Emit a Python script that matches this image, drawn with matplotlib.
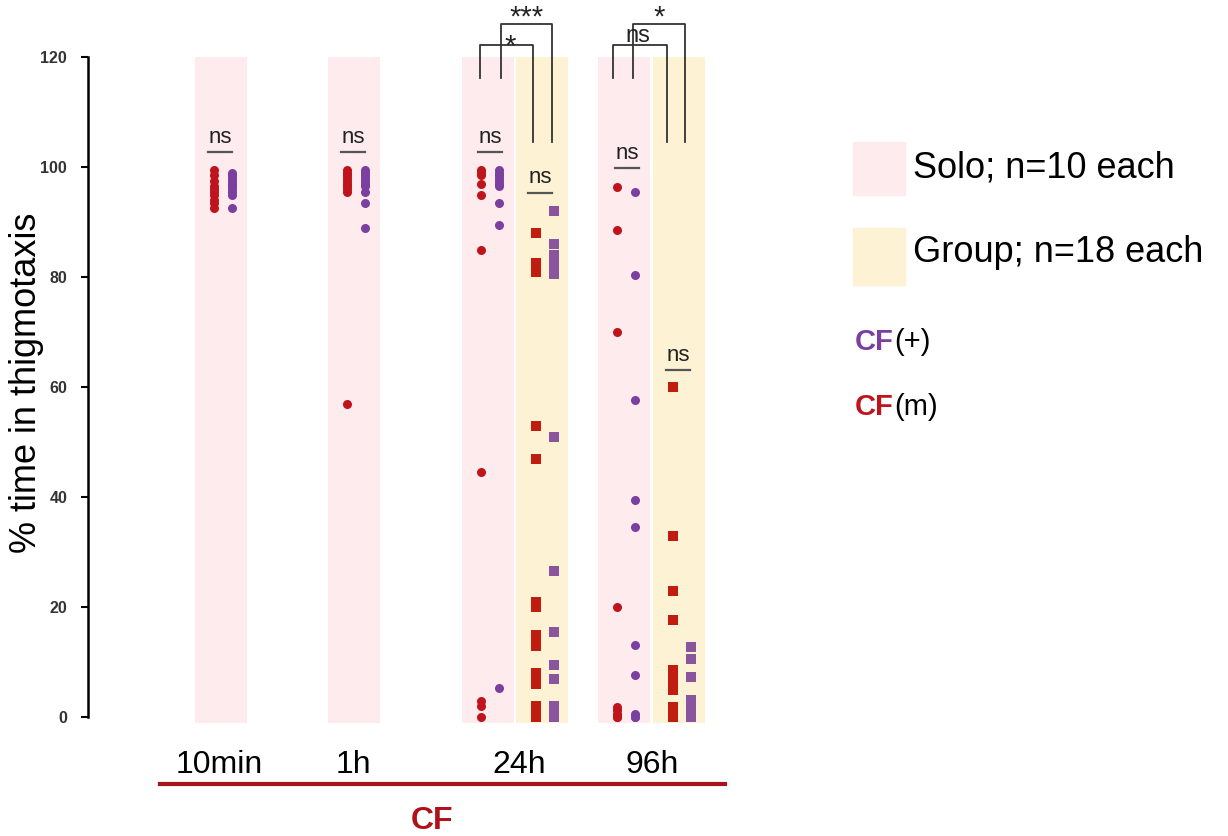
import matplotlib.pyplot as plt
from matplotlib.patches import Rectangle

plt.rcParams['font.family'] = ['Liberation Sans', 'DejaVu Sans']

# timepoints on the x axis
timepoints = ['10min', '1h', '24h', '96h']

# Solo fish (n=10 each): CF(m) red dots, CF(+) purple dots
solo_m_10min = [99.5, 98.5, 97.5, 96.5, 96, 95.5, 95, 94, 93.5, 92.5]
solo_p_10min = [99, 98.5, 98, 97.5, 97, 96.5, 96, 95.5, 95, 92.5]
solo_m_1h = [99.5, 99, 98.5, 98, 97.5, 97, 96.5, 96, 95.5, 56.9]
solo_p_1h = [99.5, 99, 98.5, 98, 97.5, 97, 96.5, 95.5, 93.5, 89]
solo_m_24h = [99.5, 99, 98.5, 97, 95, 85, 44.5, 3, 2, 0]
solo_p_24h = [99.5, 99, 98.5, 98, 97.5, 97, 96.5, 93.5, 89.5, 5.3]
solo_m_96h = [96.4, 88.5, 70, 20, 1.8, 1.2, 0.6, 0.3, 0, 0]
solo_p_96h = [95.5, 80.4, 57.6, 39.5, 34.6, 13.1, 7.6, 0.5, 0, 0]

# Group fish (n=18 each): CF(m) red squares, CF(+) purple squares
group_m_24h = [88, 82.5, 81.5, 81, 53, 47, 21, 20, 15, 14, 13, 8, 7, 6, 2, 1, 0.5, 0]
group_p_24h = [92, 86, 84, 83, 82, 80.5, 51, 26.5, 15.5, 9.5, 7, 2, 1.5, 1, 0.5, 0, 0, 0]
group_m_96h = [60, 33, 23, 17.6, 8.5, 7.5, 6.5, 5.5, 5, 1.8, 1.2, 0.8, 0.5, 0.3, 0, 0, 0, 0]
group_p_96h = [12.7, 10.5, 7.3, 3.1, 1.3, 0.8, 0.4, 0, 0, 0, 0, 0, 0, 0, 0, 0, 0, 0]

# colours
pink = '#fdebed'
cream = '#fdf2d3'
red = '#c0141c'
purple = '#7b3fa0'
red_sq = '#c01d10'
purple_sq = '#8a559c'

W, H = 1228, 836
fig = plt.figure(figsize=(W / 100, H / 100), dpi=100)
# axes frame in pixels: x 88..760, y 57..717 (0..120)
ax = fig.add_axes([88 / W, (H - 717) / H, 672 / W, 660 / H])
ax.set_xlim(88, 760)
ax.set_ylim(0, 120)

# column layout (x in pixel units)
solo_x = {'10min': 223, '1h': 356, '24h': 490, '96h': 626}
group_x = {'24h': 545, '96h': 682}
band_w = 52
dx = 9  # offset of red / purple columns from band centre

solo_m = {'10min': solo_m_10min, '1h': solo_m_1h, '24h': solo_m_24h, '96h': solo_m_96h}
solo_p = {'10min': solo_p_10min, '1h': solo_p_1h, '24h': solo_p_24h, '96h': solo_p_96h}
group_m = {'24h': group_m_24h, '96h': group_m_96h}
group_p = {'24h': group_p_24h, '96h': group_p_96h}

for t in timepoints:
    x = solo_x[t]
    ax.bar(x - 2, 121, bottom=-1, width=band_w, color=pink, zorder=0, clip_on=False)
    ax.plot([x - dx] * len(solo_m[t]), solo_m[t], 'o', color=red, ms=6.5, mew=0,
            clip_on=False, zorder=3)
    ax.plot([x + dx] * len(solo_p[t]), solo_p[t], 'o', color=purple, ms=6.5, mew=0,
            clip_on=False, zorder=3)
    if t in group_x:
        gx = group_x[t]
        ax.bar(gx - 3, 121, bottom=-1, width=band_w, color=cream, zorder=0, clip_on=False)
        ax.plot([gx - dx] * len(group_m[t]), group_m[t], 's', color=red_sq, ms=6.5,
                mew=0, clip_on=False, zorder=3)
        ax.plot([gx + dx] * len(group_p[t]), group_p[t], 's', color=purple_sq, ms=6.5,
                mew=0, clip_on=False, zorder=3)

# "ns" labels with underline
ns_marks = [(220, 102.7), (353, 102.7), (490, 102.7), (540, 95.3), (627, 99.8), (678, 63.1)]
for x, y in ns_marks:
    ax.plot([x - 12, x + 12], [y, y], color='#555555', lw=1.6, clip_on=False)
    ax.text(x, y + 0.8, 'ns', ha='center', va='bottom', fontsize=16, color='#222222')

# significance brackets: (x left, x right, top, left bottom, right bottom, label, label x)
brackets = [
    (480, 533, 122.2, 116.2, 104.5, '*', 510),
    (501, 552, 126.0, 116.2, 104.5, '***', 527),
    (613, 667, 122.2, 116.2, 104.5, 'ns', 638),
    (633, 685, 126.0, 116.2, 104.5, '*', 659),
]
for xl, xr, top, yl, yr, lab, lx in brackets:
    ax.plot([xl, xl, xr, xr], [yl, top, top, yr], color='#333333', lw=1.3,
            clip_on=False, zorder=4)
    if lab == 'ns':
        ax.text(lx, top - 0.3, lab, ha='center', va='bottom', fontsize=17,
                color='#222222', zorder=5)
    elif top > 124:
        ax.text(lx, top - 0.2, lab, ha='center', va='baseline', fontsize=21,
                color='#222222', zorder=5)
    else:
        ax.text(lx, top - 1.8, lab, ha='center', va='baseline', fontsize=21,
                color='#222222', zorder=5)

# axes styling
for s in ['top', 'right', 'bottom']:
    ax.spines[s].set_visible(False)
ax.spines['left'].set_linewidth(1.8)
ax.set_yticks([0, 20, 40, 60, 80, 100, 120])
ax.tick_params(axis='y', direction='out', length=5, width=1.5, labelsize=11.5,
               labelcolor='#333333', pad=10)
for lb in ax.get_yticklabels():
    lb.set_fontweight('bold')
ax.set_ylabel('% time in thigmotaxis', fontsize=26)
ax.yaxis.set_label_coords(-0.066, 0.506)

ax.set_xticks([219, 353, 519, 652])
ax.set_xticklabels(timepoints, fontsize=23)
ax.tick_params(axis='x', length=0, pad=24)

# red CF line below the x labels
ax.plot([160, 725], [-12.2, -12.2], color='#a8141a', lw=3, clip_on=False)
ax.text(432, -18.9, 'CF', ha='center', va='center', fontsize=23,
        fontweight='bold', color='#b01018')

# legend
fig.patches.append(Rectangle((853 / W, (H - 195) / H), 52 / W, 53 / H,
                             transform=fig.transFigure, color=pink))
fig.patches.append(Rectangle((853 / W, (H - 285) / H), 52 / W, 57 / H,
                             transform=fig.transFigure, color=cream))
fig.text(913 / W, (H - 168) / H, 'Solo; n=10 each', fontsize=26, va='center')
fig.text(913 / W, (H - 252) / H, 'Group; n=18 each', fontsize=26, va='center')

t1 = fig.text(855 / W, (H - 342) / H, 'CF', fontsize=21, fontweight='bold',
              color=purple, va='center')
t2 = fig.text(855 / W, (H - 407) / H, 'CF', fontsize=21, fontweight='bold',
              color=red, va='center')

fig.canvas.draw()
for t, lab in [(t1, '(+)'), (t2, '(m)')]:
    bb = t.get_window_extent()
    x0, y0 = fig.transFigure.inverted().transform((bb.x1, (bb.y0 + bb.y1) / 2))
    fig.text(x0, y0, lab, fontsize=21, va='center')

fig.savefig('out.png', dpi=100)
